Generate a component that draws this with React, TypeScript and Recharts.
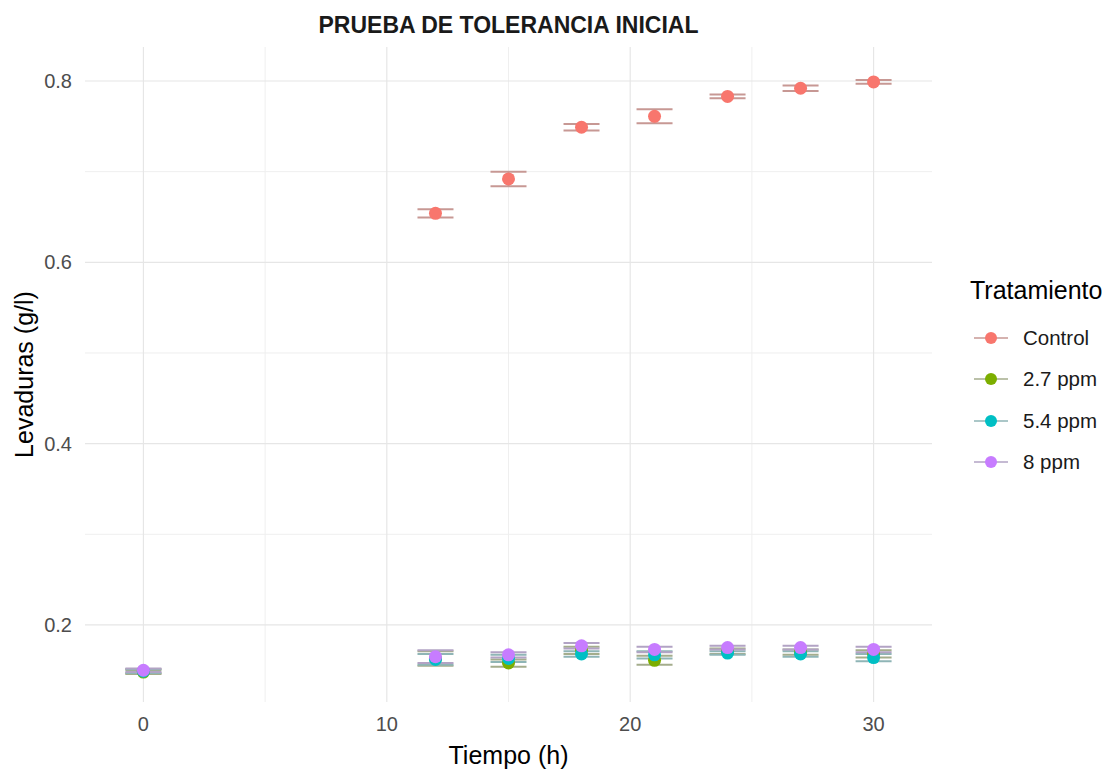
import React from 'react';
import {
  ScatterChart,
  Scatter,
  XAxis,
  YAxis,
  ReferenceLine,
  ErrorBar,
} from 'recharts';

// Tiempos de muestreo (h)
const tiempo = [0, 12, 15, 18, 21, 24, 27, 30];

// Biomasa de levaduras (g/l) por tratamiento, media y desviación
const control = [0.149, 0.654, 0.692, 0.749, 0.761, 0.783, 0.792, 0.799];
const controlSd = [0.0025, 0.0045, 0.008, 0.0035, 0.0077, 0.002, 0.003, 0.002];

const ppm27 = [0.148, 0.163, 0.158, 0.172, 0.161, 0.171, 0.17, 0.168];
const ppm27Sd = [0.002, 0.008, 0.004, 0.004, 0.005, 0.003, 0.003, 0.004];

const ppm54 = [0.149, 0.162, 0.163, 0.168, 0.167, 0.169, 0.168, 0.164];
const ppm54Sd = [0.002, 0.006, 0.004, 0.003, 0.004, 0.002, 0.003, 0.004];

const ppm8 = [0.15, 0.165, 0.167, 0.177, 0.173, 0.175, 0.175, 0.173];
const ppm8Sd = [0.002, 0.007, 0.003, 0.003, 0.003, 0.002, 0.002, 0.003];

// Ejes y rejilla
const xTicks = [0, 10, 20, 30];
const xMinor = [5, 15, 25];
const yTicks = [0.2, 0.4, 0.6, 0.8];
const yMinor = [0.3, 0.5, 0.7];

const tratamientos = [
  { nombre: 'Control', valores: control, sd: controlSd, color: '#F8766D', barra: '#c79894' },
  { nombre: '2.7 ppm', valores: ppm27, sd: ppm27Sd, color: '#7CAE00', barra: '#a4ad8c' },
  { nombre: '5.4 ppm', valores: ppm54, sd: ppm54Sd, color: '#00BFC4', barra: '#8fb5b6' },
  { nombre: '8 ppm', valores: ppm8, sd: ppm8Sd, color: '#C77CFF', barra: '#b2a3c4' },
];

const FONT = '"Liberation Sans", Arial, sans-serif';

function Punto(props: any, color: string) {
  const { cx, cy } = props;
  if (cx == null || cy == null) return null;
  return <circle cx={cx} cy={cy} r={6.5} fill={color} />;
}

export default function App() {
  return (
    <div
      style={{
        position: 'absolute',
        left: 0,
        top: 0,
        width: 1112,
        height: 771,
        background: '#fff',
        fontFamily: FONT,
      }}
    >
      <div
        style={{
          position: 'absolute',
          left: 85,
          width: 847,
          top: 12,
          textAlign: 'center',
          fontSize: 23,
          fontWeight: 'bold',
          color: '#1a1a1a',
        }}
      >
        PRUEBA DE TOLERANCIA INICIAL
      </div>

      <ScatterChart
        width={1112}
        height={771}
        margin={{ top: 47, right: 180, bottom: 7, left: 15 }}
      >
        {/* rejilla estilo theme_minimal: secundarias más claras */}
        {xMinor.map((v) => (
          <ReferenceLine key={`xm-${v}`} x={v} stroke="#efefef" strokeWidth={1} />
        ))}
        {yMinor.map((v) => (
          <ReferenceLine key={`ym-${v}`} y={v} stroke="#efefef" strokeWidth={1} />
        ))}
        {xTicks.map((v) => (
          <ReferenceLine key={`x-${v}`} x={v} stroke="#e6e6e6" strokeWidth={1.2} />
        ))}
        {yTicks.map((v) => (
          <ReferenceLine key={`y-${v}`} y={v} stroke="#e6e6e6" strokeWidth={1.2} />
        ))}
        <XAxis
          type="number"
          dataKey="tiempo"
          domain={[-2.4, 32.4]}
          ticks={xTicks}
          allowDataOverflow
          axisLine={false}
          tickLine={false}
          tickMargin={9}
          height={62}
          tick={{ fontSize: 20, fill: '#4d4d4d' }}
          label={{
            value: 'Tiempo (h)',
            position: 'insideBottom',
            offset: 0,
            style: { fontSize: 25, fill: '#000', textAnchor: 'middle' },
          }}
        />
        <YAxis
          type="number"
          dataKey="valor"
          domain={[0.115, 0.8375]}
          ticks={yTicks}
          allowDataOverflow
          axisLine={false}
          tickLine={false}
          tickMargin={7}
          width={70}
          tickFormatter={(v: number) => v.toFixed(1)}
          tick={{ fontSize: 20, fill: '#4d4d4d' }}
          label={{
            value: 'Levaduras (g/l)',
            angle: -90,
            position: 'insideLeft',
            offset: 9,
            style: { fontSize: 25, fill: '#000', textAnchor: 'middle' },
          }}
        />
        {tratamientos.map((t) => (
          <Scatter
            key={t.nombre}
            name={t.nombre}
            data={tiempo.map((x, i) => ({ tiempo: x, valor: t.valores[i], sd: t.sd[i] }))}
            fill={t.color}
            isAnimationActive={false}
            shape={(p: any) => Punto(p, t.color)}
          >
            <ErrorBar
              dataKey="sd"
              direction="y"
              width={18}
              stroke={t.barra}
              strokeWidth={2}
              isAnimationActive={false}
            />
          </Scatter>
        ))}
      </ScatterChart>

      <div style={{ position: 'absolute', left: 970, top: 274 }}>
        <div style={{ fontSize: 25, color: '#000', lineHeight: '32px' }}>Tratamiento</div>
        <div style={{ marginTop: 11 }}>
          {tratamientos.map((t) => (
            <div
              key={t.nombre}
              style={{ display: 'flex', alignItems: 'center', height: 41.5 }}
            >
              <svg width={40} height={20} style={{ marginLeft: 2 }}>
                <line x1={2} y1={10} x2={36} y2={10} stroke={t.barra} strokeWidth={1.5} />
                <circle cx={19} cy={10} r={6} fill={t.color} />
              </svg>
              <span style={{ fontSize: 20.5, color: '#1a1a1a', marginLeft: 11 }}>{t.nombre}</span>
            </div>
          ))}
        </div>
      </div>
    </div>
  );
}
